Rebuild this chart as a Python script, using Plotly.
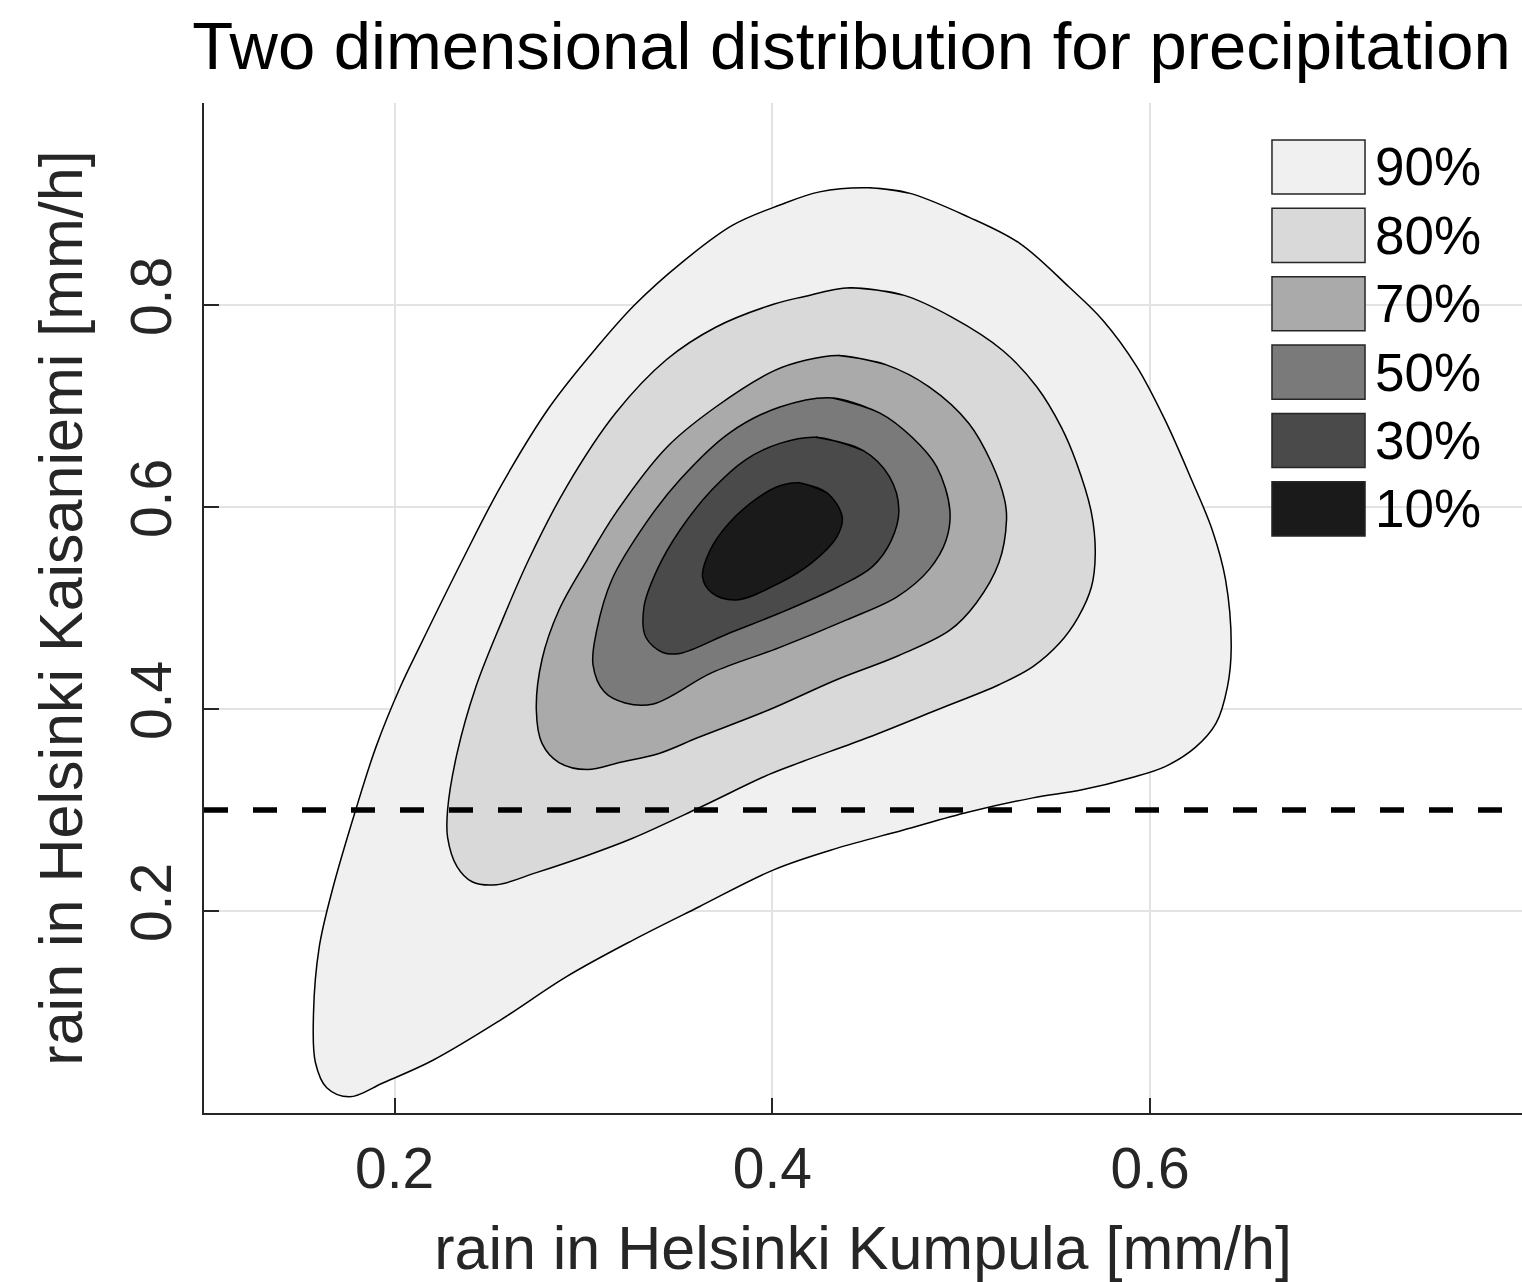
import plotly.graph_objects as go

# ---- data ----
levels = ["90%", "80%", "70%", "50%", "30%", "10%"]
fill_colors = ["#f0f0f0", "#d9d9d9", "#aaaaaa", "#7a7a7a", "#4a4a4a", "#1a1a1a"]

x90 = [0.451, 0.472, 0.504, 0.531, 0.557, 0.575, 0.593, 0.608, 0.622, 0.633, 0.640, 0.643, 0.641, 0.635,
       0.624, 0.608, 0.590, 0.564, 0.538, 0.504, 0.469, 0.434, 0.401, 0.361, 0.326, 0.291, 0.256, 0.220,
       0.194, 0.176, 0.164, 0.158, 0.157, 0.160, 0.167, 0.179, 0.190, 0.203, 0.213, 0.236, 0.256, 0.282,
       0.307, 0.327, 0.352, 0.379, 0.404, 0.425]
y90 = [0.916, 0.911, 0.887, 0.861, 0.818, 0.785, 0.739, 0.686, 0.627, 0.577, 0.528, 0.461, 0.422, 0.386,
       0.362, 0.343, 0.332, 0.320, 0.312, 0.298, 0.280, 0.262, 0.241, 0.204, 0.171, 0.135, 0.092, 0.052,
       0.030, 0.016, 0.025, 0.050, 0.099, 0.164, 0.221, 0.298, 0.362, 0.422, 0.461, 0.548, 0.620, 0.699,
       0.758, 0.800, 0.842, 0.879, 0.899, 0.912]

x80 = [0.441, 0.469, 0.495, 0.522, 0.540, 0.553, 0.561, 0.569, 0.571, 0.569, 0.562, 0.552, 0.538, 0.520,
       0.487, 0.451, 0.416, 0.398, 0.361, 0.326, 0.302, 0.275, 0.254, 0.241, 0.233, 0.228, 0.228, 0.233,
       0.243, 0.257, 0.271, 0.291, 0.317, 0.344, 0.370, 0.401, 0.416]
y80 = [0.817, 0.810, 0.788, 0.755, 0.719, 0.679, 0.644, 0.594, 0.554, 0.521, 0.491, 0.465, 0.442, 0.424,
       0.399, 0.372, 0.348, 0.335, 0.302, 0.272, 0.255, 0.238, 0.226, 0.229, 0.244, 0.273, 0.300, 0.356,
       0.422, 0.488, 0.548, 0.620, 0.693, 0.746, 0.778, 0.801, 0.808]

x70 = [0.435, 0.460, 0.483, 0.504, 0.516, 0.523, 0.524, 0.520, 0.508, 0.494, 0.467, 0.434, 0.398, 0.361,
       0.340, 0.319, 0.302, 0.287, 0.278, 0.275, 0.278, 0.287, 0.302, 0.317, 0.344, 0.370, 0.401, 0.417]
y70 = [0.750, 0.741, 0.719, 0.683, 0.644, 0.607, 0.587, 0.545, 0.505, 0.478, 0.453, 0.429, 0.399, 0.372,
       0.356, 0.347, 0.340, 0.347, 0.366, 0.399, 0.449, 0.498, 0.548, 0.594, 0.659, 0.699, 0.735, 0.745]

x50 = [0.432, 0.457, 0.474, 0.487, 0.494, 0.492, 0.483, 0.466, 0.439, 0.404, 0.368, 0.337, 0.322, 0.311,
       0.305, 0.307, 0.315, 0.333, 0.351, 0.377, 0.404]
y50 = [0.708, 0.693, 0.669, 0.640, 0.597, 0.567, 0.538, 0.511, 0.488, 0.461, 0.436, 0.405, 0.406, 0.417,
       0.444, 0.478, 0.528, 0.584, 0.627, 0.673, 0.699]

x30 = [0.423, 0.448, 0.462, 0.467, 0.463, 0.453, 0.435, 0.404, 0.377, 0.351, 0.342, 0.333, 0.332, 0.339,
       0.351, 0.368, 0.386, 0.404]
y30 = [0.669, 0.656, 0.630, 0.597, 0.567, 0.541, 0.521, 0.495, 0.475, 0.455, 0.456, 0.471, 0.501, 0.538,
       0.577, 0.617, 0.647, 0.663]

x10 = [0.414, 0.429, 0.437, 0.434, 0.421, 0.404, 0.381, 0.368, 0.363, 0.367, 0.377, 0.393, 0.404]
y10 = [0.624, 0.614, 0.590, 0.570, 0.545, 0.525, 0.508, 0.515, 0.531, 0.557, 0.584, 0.610, 0.621]

contours_x = [x90, x80, x70, x50, x30, x10]
contours_y = [y90, y80, y70, y50, y30, y10]

threshold = 0.3
x_range = [0.099, 0.797]
y_range = [0.0, 1.0]
x_ticks = [0.2, 0.4, 0.6]
x_tick_text = ["0.2", "0.4", "0.6"]
y_ticks = [0.2, 0.4, 0.6, 0.8]
y_tick_text = ["0.2", "0.4", "0.6", "0.8"]

title_text = "Two dimensional distribution for precipitation"
x_title = "rain in Helsinki Kumpula [mm/h]"
y_title = "rain in Helsinki Kaisaniemi [mm/h]"

FONT = "Liberation Sans, Arial, Helvetica, sans-serif"
AX = "#262626"

fig = go.Figure()

for lab, col, xs, ys in zip(levels, fill_colors, contours_x, contours_y):
    # closed ring, wrapped by one extra vertex so the spline is smooth at the seam
    ring_x = xs + [xs[0], xs[1]]
    ring_y = ys + [ys[0], ys[1]]
    fig.add_trace(go.Scatter(
        x=ring_x, y=ring_y, mode="lines", fill="toself", fillcolor=col,
        line=dict(color="rgba(0,0,0,0)", width=0, shape="spline", smoothing=1.0, simplify=False),
        name=lab, showlegend=False, hoverinfo="name"))
    fig.add_trace(go.Scatter(
        x=ring_x, y=ring_y, mode="lines",
        line=dict(color="black", width=1.5, shape="spline", smoothing=1.0, simplify=False),
        name=lab, showlegend=False, hoverinfo="skip"))

fig.add_trace(go.Scatter(
    x=x_range, y=[threshold, threshold], mode="lines",
    line=dict(color="black", width=5.5, dash="24px,25px"),
    showlegend=False, hoverinfo="skip"))

# manual legend (boxes + labels) in paper coordinates
shapes = []
annotations = []
box_x0, box_x1 = 0.8103, 0.8809
top = 0.9634
box_h = 0.0535
step = 0.0677
for i, (lab, col) in enumerate(zip(levels, fill_colors)):
    y1 = top - i * step
    y0 = y1 - box_h
    shapes.append(dict(type="rect", xref="paper", yref="paper", x0=box_x0, x1=box_x1, y0=y0, y1=y1,
                       fillcolor=col, line=dict(color="#262626", width=1.5), layer="above"))
    annotations.append(dict(xref="paper", yref="paper", x=box_x1 + 0.006, y=(y0 + y1) / 2,
                            text=lab, showarrow=False, xanchor="left", yanchor="middle",
                            font=dict(family=FONT, size=53, color="black")))

fig.update_layout(
    width=1522, height=1282,
    margin=dict(l=204, r=0, t=103, b=169, autoexpand=False),
    paper_bgcolor="white", plot_bgcolor="white",
    title=dict(text=title_text, x=0.4913, xanchor="center", xref="paper",
               y=1 - 46 / 1282, yanchor="middle", yref="container",
               font=dict(family=FONT, size=67, color="black")),
    shapes=shapes, annotations=annotations,
    showlegend=False,
    xaxis=dict(range=x_range, tickvals=x_ticks, ticktext=x_tick_text, automargin=False,
               showgrid=True, gridcolor="#e3e3e3", gridwidth=1.5, zeroline=False,
               showline=True, linecolor=AX, linewidth=2, mirror=False,
               ticks="inside", ticklen=15, tickwidth=2, tickcolor=AX,
               ticklabelstandoff=5,
               tickfont=dict(family=FONT, size=57, color=AX),
               title=dict(text=x_title, standoff=40, font=dict(family=FONT, size=61, color=AX))),
    yaxis=dict(range=y_range, tickvals=y_ticks, ticktext=y_tick_text, automargin=False,
               showgrid=True, gridcolor="#e3e3e3", gridwidth=1.5, zeroline=False,
               showline=True, linecolor=AX, linewidth=2, mirror=False,
               ticks="inside", ticklen=15, tickwidth=2, tickcolor=AX,
               tickangle=-90, ticklabelstandoff=8,
               tickfont=dict(family=FONT, size=57, color=AX),
               title=dict(text=y_title, standoff=17, font=dict(family=FONT, size=61, color=AX))),
)

fig.write_html("out.html")
